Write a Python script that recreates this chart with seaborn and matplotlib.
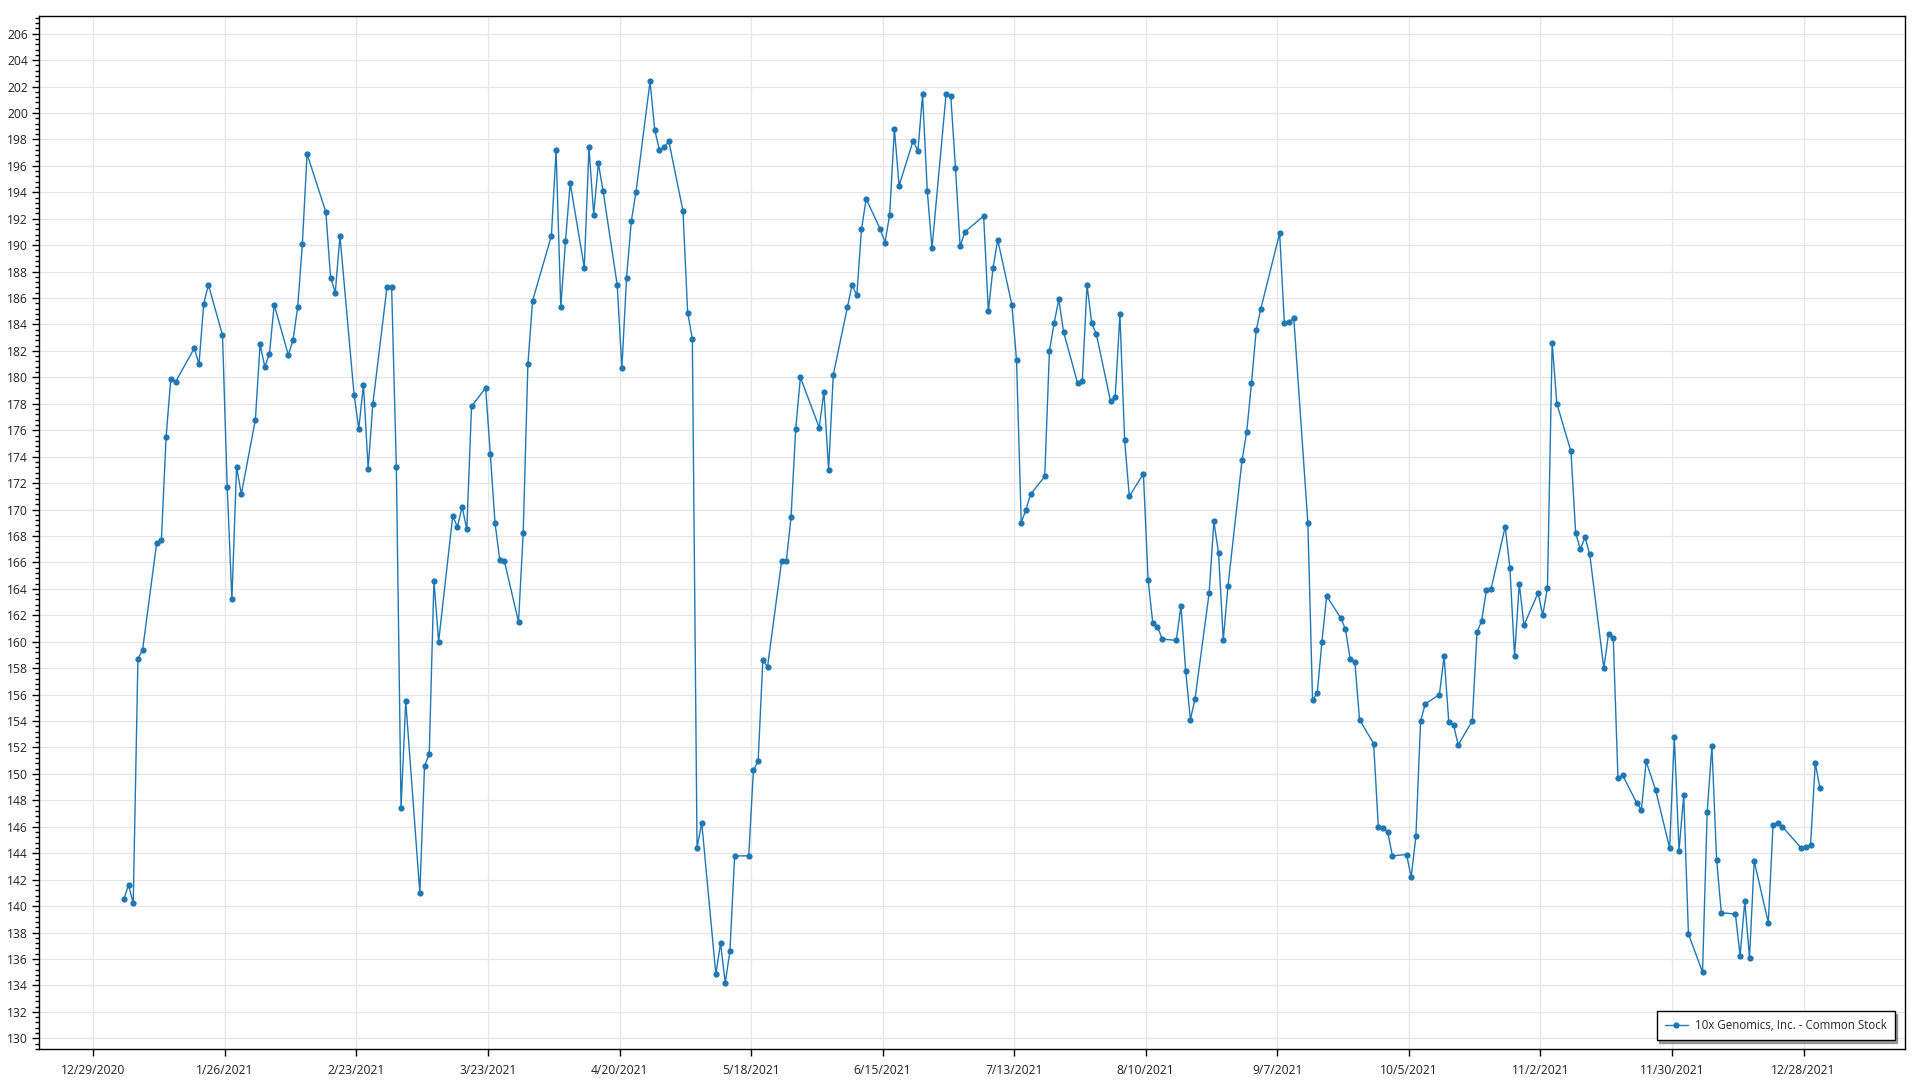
import pandas as pd
import numpy as np
import matplotlib
matplotlib.use("Agg")
import matplotlib.pyplot as plt
import matplotlib.ticker as mticker
import seaborn as sns

# ---------------------------------------------
# Donnees : cours de cloture 2021
# ---------------------------------------------
series_name = "10x Genomics, Inc. - Common Stock"

holidays_2021 = ["2021-01-01", "2021-01-18", "2021-02-15", "2021-04-02", "2021-05-31",
                 "2021-07-05", "2021-09-06", "2021-11-25", "2021-12-24"]

jan = [140.5, 141.6, 140.2, 158.7, 159.4, 167.5, 167.7, 175.5, 179.9, 179.65,
       182.2, 181.0, 185.55, 187.0, 183.2, 171.7, 163.2, 173.25, 171.15]
feb = [176.8, 182.5, 180.8, 181.8, 185.5, 181.7, 182.8, 185.3, 190.1, 196.9,
       192.5, 187.55, 186.4, 190.7, 178.7, 176.1, 179.45, 173.1, 178.0]
mar = [186.8, 186.8, 173.2, 147.4, 155.5, 141.0, 150.6, 151.5, 164.6, 160.0,
       169.5, 168.7, 170.2, 168.5, 177.8, 179.2, 174.2, 169.0, 166.2, 166.1,
       161.5, 168.2, 181.0]
apr = [185.8, 190.7, 197.2, 185.3, 190.3, 194.7, 188.3, 197.4, 192.3, 196.2,
       194.1, 187.0, 180.7, 187.55, 191.8, 194.0, 202.4, 198.7, 197.2, 197.4, 197.85]
may = [192.6, 184.9, 182.9, 144.4, 146.3, 134.85, 137.2, 134.2, 136.6, 143.8,
       143.8, 150.3, 150.95, 158.6, 158.1, 166.1, 166.1, 169.4, 176.1, 180.0]
jun = [176.2, 178.9, 173.0, 180.2, 185.3, 187.0, 186.2, 191.2, 193.5, 191.2,
       190.2, 192.3, 198.8, 194.5, 197.9, 197.1, 201.4, 194.1, 189.75, 201.4,
       201.3, 195.85]
jul = [189.9, 191.0, 192.2, 185.0, 188.3, 190.4, 185.5, 181.3, 169.0, 170.0,
       171.15, 172.5, 182.0, 184.1, 185.9, 183.45, 179.55, 179.75, 187.0, 184.1, 183.25]
aug = [178.2, 178.5, 184.8, 175.25, 171.0, 172.7, 164.7, 161.4, 161.15, 160.2,
       160.1, 162.7, 157.8, 154.1, 155.7, 163.7, 169.1, 166.7, 160.1, 164.2,
       173.75, 175.9]
sep = [179.55, 183.55, 185.2, 190.9, 184.1, 184.15, 184.5, 169.0, 155.6, 156.1,
       160.0, 163.45, 161.8, 160.95, 158.7, 158.5, 154.1, 152.3, 146.0, 145.9, 145.6]
oct_ = [143.8, 143.9, 142.2, 145.3, 154.0, 155.3, 156.0, 158.9, 153.9, 153.7,
        152.2, 154.0, 160.7, 161.6, 163.9, 164.0, 168.7, 165.6, 158.9, 164.4, 161.25]
nov = [163.7, 162.0, 164.1, 182.6, 178.0, 174.4, 168.2, 167.0, 167.9, 166.6,
       158.0, 160.6, 160.3, 149.7, 149.9, 147.8, 147.3, 150.95, 148.8, 144.4, 152.8]
dec = [144.2, 148.4, 137.9, 135.0, 147.15, 152.1, 143.5, 139.5, 139.4, 136.25,
       140.35, 136.1, 143.4, 138.75, 146.1, 146.3, 146.0, 144.4, 144.45, 144.65,
       150.85, 148.9]

prix = jan + feb + mar + apr + may + jun + jul + aug + sep + oct_ + nov + dec

# jours de bourse 2021 (les points sont affiches a midi)
dates = pd.bdate_range("2021-01-04", "2021-12-31", freq="C", holidays=holidays_2021)
df = pd.DataFrame({"date": dates + pd.Timedelta(hours=12), "prix": prix})

# graduations de l'axe x : toutes les 4 semaines
tick_dates = pd.date_range("2020-12-29", "2021-12-28", freq="28D")
tick_labels = [f"{d.month}/{d.day}/{d.year}" for d in tick_dates]

# ---------------------------------------------
# Graphique
# ---------------------------------------------
sns.set_theme(style="white")
plt.rcParams["font.family"] = ["Open Sans", "DejaVu Sans"]

couleur = "#1f77b4"
fig = plt.figure(figsize=(19.2, 10.8), dpi=100)
ax = fig.add_axes([0.0203, 0.0287, 0.9719, 0.9568])

sns.lineplot(data=df, x="date", y="prix", ax=ax, color=couleur, linewidth=1.0,
             marker="o", markersize=4.5, markeredgewidth=0, label=series_name)

x0 = pd.Timestamp("2020-12-29")
ax.set_xlim(x0 - pd.Timedelta(days=11.56), x0 + pd.Timedelta(days=385.6))
ax.set_ylim(129.19, 207.36)

ax.set_xticks(tick_dates)
ax.set_xticklabels(tick_labels)
ax.yaxis.set_major_locator(mticker.MultipleLocator(2))
ax.yaxis.set_minor_locator(mticker.MultipleLocator(0.4))
ax.yaxis.set_major_formatter(mticker.FormatStrFormatter("%d"))

ax.set_xlabel("")
ax.set_ylabel("")
ax.grid(True, which="major", color="#e6e6e6", linewidth=0.9)
ax.set_axisbelow(True)

for s in ax.spines.values():
    s.set_visible(True)
    s.set_color("black")
    s.set_linewidth(1.0)

ax.tick_params(axis="both", which="major", direction="out", length=5, width=1,
               color="black", labelsize=8.7, labelcolor="#222222", bottom=True, left=True)
ax.tick_params(axis="y", which="minor", direction="out", length=3, width=1,
               color="black", left=True)
ax.tick_params(axis="x", which="major", pad=6)
ax.tick_params(axis="y", which="major", pad=3)

leg = ax.legend(loc="lower right", frameon=True, fancybox=False, shadow=True,
                fontsize=8.3, borderpad=0.7, handlelength=2.0, handletextpad=0.6,
                bbox_to_anchor=(0.9975, 0.003))
leg.get_frame().set_edgecolor("black")
leg.get_frame().set_linewidth(1.0)

fig.savefig("out.png", dpi=100)
